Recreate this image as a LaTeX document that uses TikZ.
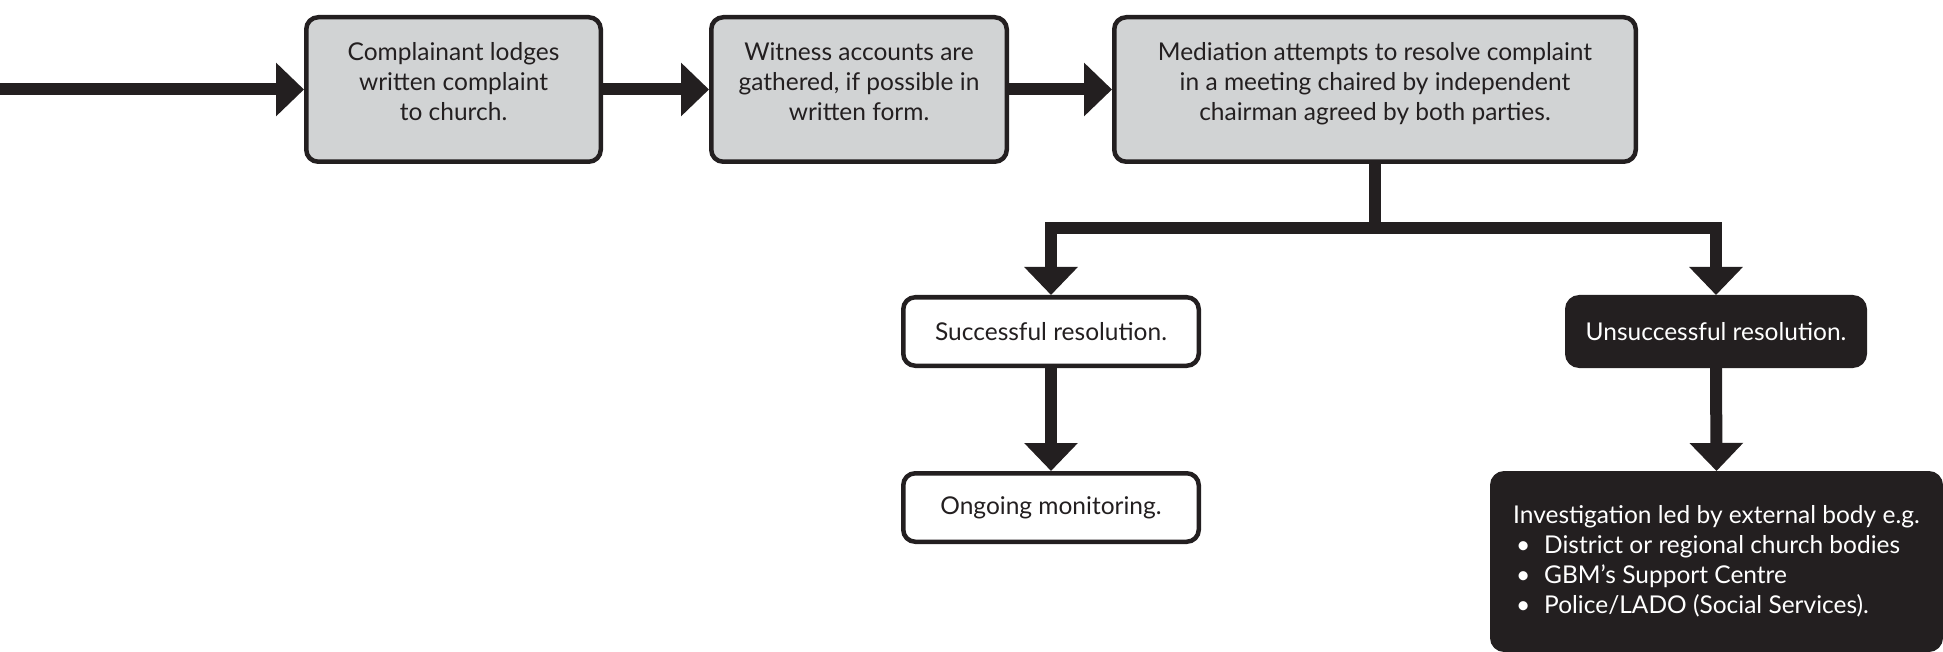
\documentclass[tikz,border=0pt]{standalone}
\usepackage{fontspec}
\setmainfont{Lato}
\usetikzlibrary{arrows.meta}
\definecolor{ink}{HTML}{231F20}
\definecolor{boxgray}{HTML}{D1D3D4}
\begin{document}
\begin{tikzpicture}[x=1pt,y=-1pt,
  base/.style={rounded corners=12pt, line width=4.5pt, draw=ink, align=center,
    font=\fontsize{24.5}{30}\selectfont, inner sep=0pt},
  graybox/.style={base, fill=boxgray, text=ink, text depth=16pt},
  whitebox/.style={base, fill=white, text=ink},
  blackbox/.style={base, fill=ink, text=white},
  arr/.style={line width=12pt, draw=ink, -{Triangle[width=52pt,length=28pt]}}]
\useasboundingbox (0,0) rectangle (1943,652);
\node[graybox, minimum width=294.5pt, minimum height=144.5pt] (b1) at (453.5,89.5)
  {Complainant lodges\\written complaint\\to church.};
\node[graybox, minimum width=295.5pt, minimum height=144.5pt] (b2) at (859,89.5)
  {Witness accounts are\\gathered, if possible in\\written form.};
\node[graybox, minimum width=521.5pt, minimum height=144.5pt] (b3) at (1375,89.5)
  {Mediation attempts to resolve complaint\\in a meeting chaired by independent\\chairman agreed by both parties.};
\node[whitebox, minimum width=295.5pt, minimum height=68.5pt] (succ) at (1051,331.5)
  {Successful resolution.};
\node[blackbox, minimum width=297.5pt, minimum height=68.5pt] (unsucc) at (1716,331.5)
  {Unsuccessful resolution.};
\node[whitebox, minimum width=295.5pt, minimum height=68.5pt] (ongo) at (1051,507.5)
  {Ongoing monitoring.};
\node[blackbox, align=left, minimum width=448.5pt, minimum height=176.5pt] (inv) at (1716.5,561.5)
  {Investigation led by external body e.g.\\
   \makebox[20pt]{\textbullet}\hspace{11pt}District or regional church bodies\\
   \makebox[20pt]{\textbullet}\hspace{11pt}GBM’s Support Centre\\
   \makebox[20pt]{\textbullet}\hspace{11pt}Police/LADO (Social Services).};
\coordinate (start) at (0,89.5);
\coordinate (split) at (1375,228);
\draw[arr] (start) -- (b1.west);
\draw[arr] (b1.east) -- (b2.west);
\draw[arr] (b2.east) -- (b3.west);
\draw[arr] (b3.south) -- (split) -| (succ.north);
\draw[arr] (split) -| (unsucc.north);
\draw[arr] (succ.south) -- (ongo.north);
\draw[arr] (unsucc.south) -- (inv.north);
\end{tikzpicture}
\end{document}
